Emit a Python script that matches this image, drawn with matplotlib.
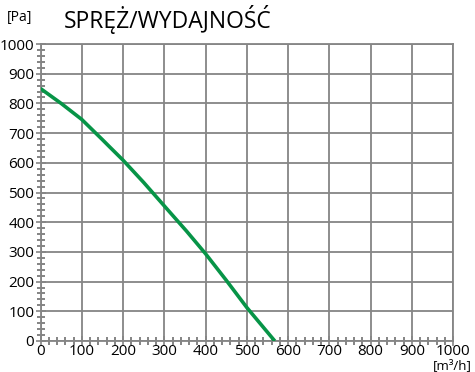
import numpy as np
import matplotlib.pyplot as plt

plt.rcParams['font.family'] = ['Open Sans', 'DejaVu Sans']

# odczyt z wykresu
flow = [0, 50, 100, 150, 168, 200, 250, 300, 354, 400, 450, 500, 568]
pressure = [850, 800, 746, 678, 653, 609, 534, 455, 370, 294, 205, 113, 0]

x_ticks = list(range(0, 1001, 100))
y_ticks = list(range(0, 1001, 100))
minor_ticks = list(range(0, 1001, 20))

grid_col = '#858585'
green = '#079447'

fig = plt.figure(figsize=(4.75, 3.72), dpi=100)
ax = fig.add_axes([40.5/475, 31/372, 412.5/475, 297/372])

ax.plot(flow, pressure, color=green, lw=2.6, solid_capstyle='butt',
        solid_joinstyle='round', zorder=3)

ax.set_xlim(0, 1000)
ax.set_ylim(0, 1000)
ax.set_xticks(x_ticks)
ax.set_yticks(y_ticks)
ax.set_xticks(minor_ticks, minor=True)
ax.set_yticks(minor_ticks, minor=True)
ax.grid(True, which='major', color=grid_col, lw=1.3)
ax.tick_params(which='major', direction='inout', length=7, width=1.2, color=grid_col,
               labelsize=11, pad=1)
ax.tick_params(which='minor', direction='inout', length=6, width=1.2, color='#707070')
ax.tick_params(axis='x', which='major', pad=-1)
for s in ax.spines.values():
    s.set_color(grid_col)
    s.set_linewidth(1.3)

fig.text(7/475, 1 - 18/372, '[Pa]', fontsize=10, va='center', ha='left')
fig.text(64/475, 1 - 20/372, 'SPRĘŻ/WYDAJNOŚĆ', fontsize=16.5, va='center', ha='left')
fig.text(472/475, 0.2/372, '[m³/h]', fontsize=9.5, va='bottom', ha='right')

fig.savefig('out.png', dpi=100)
